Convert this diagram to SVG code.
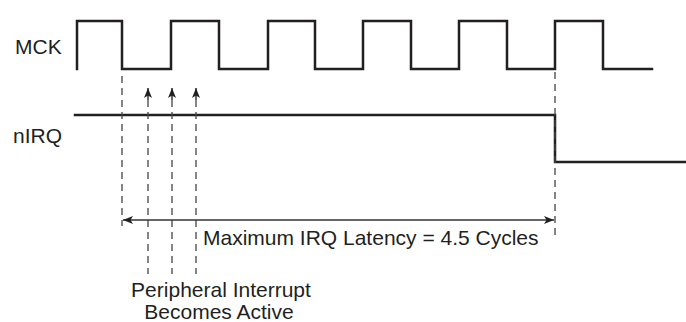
<svg xmlns="http://www.w3.org/2000/svg" width="686" height="322" viewBox="0 0 686 322">
<style>
.sig{fill:none;stroke:#231f20;stroke-width:2.5;stroke-linejoin:miter;stroke-linecap:square}
.dash{fill:none;stroke:#444;stroke-width:1.3;stroke-dasharray:7 5}
.dim{fill:none;stroke:#333;stroke-width:1.5}
.t{font-family:"Liberation Sans",Arial,sans-serif;font-size:21px;fill:#231f20}
</style>
<defs>
<marker id="ah" viewBox="0 0 10 8" refX="10" refY="4" markerWidth="10" markerHeight="8" markerUnits="userSpaceOnUse" orient="auto">
<path d="M0,0 L10,4 L0,8 L2.5,4 Z" fill="#231f20"/>
</marker>
</defs>
<g id="mck">
<text class="t" x="15" y="54">MCK</text>
<path class="sig" d="M77,69 V21 H122 V69 H171 V21 H219 V69 H268 V21 H315 V69 H363 V21 H411 V69 H459 V21 H507 V69 H555 V21 H603 V69 H652"/>
</g>
<g id="nirq">
<text class="t" x="13" y="143">nIRQ</text>
<path class="sig" d="M75,115 H555 V162 H686"/>
</g>
<g id="connectors">
<line class="dash" x1="122" y1="76" x2="122" y2="226"/>
<line class="dash" x1="555" y1="72" x2="555" y2="236"/>
<line class="dash" x1="148" y1="100" x2="148" y2="274"/>
<line class="dash" x1="172" y1="100" x2="172" y2="274"/>
<line class="dash" x1="196" y1="100" x2="196" y2="274"/>
<line class="dim" x1="148" y1="100" x2="148" y2="88" marker-end="url(#ah)"/>
<line class="dim" x1="172" y1="100" x2="172" y2="88" marker-end="url(#ah)"/>
<line class="dim" x1="196" y1="100" x2="196" y2="88" marker-end="url(#ah)"/>
<line class="dim" x1="338" y1="220" x2="123" y2="220" marker-end="url(#ah)"/>
<line class="dim" x1="338" y1="220" x2="554" y2="220" marker-end="url(#ah)"/>
</g>
<g id="latency">
<text class="t" x="203" y="245">Maximum IRQ Latency = 4.5 Cycles</text>
</g>
<g id="peripheral">
<text class="t" x="221" y="297" text-anchor="middle">Peripheral Interrupt</text>
<text class="t" x="219" y="319" text-anchor="middle">Becomes Active</text>
</g>
</svg>
